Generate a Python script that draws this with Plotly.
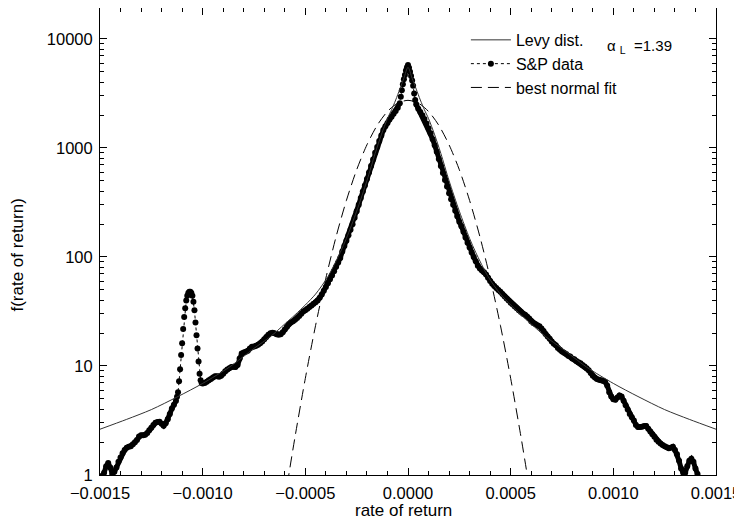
import plotly.graph_objects as go

# ---------------- data ----------------
# S&P data: rate of return (x) and density f (y)
sp_x = [
    -0.00149, -0.00148, -0.00147, -0.00146, -0.00145, -0.00144, -0.00143, -0.00142, -0.00141, -0.00140,
    -0.00139, -0.00138, -0.00137, -0.00136, -0.00135, -0.00134, -0.00133, -0.00132, -0.00131, -0.00130,
    -0.00129, -0.00128, -0.00127, -0.00126, -0.00125, -0.00124, -0.00123, -0.00122, -0.00121, -0.00120,
    -0.00119, -0.00118, -0.00117, -0.00116, -0.00115, -0.00114, -0.00113, -0.001125, -0.00112, -0.001115,
    -0.00111, -0.001105, -0.00110, -0.001095, -0.00109, -0.001085, -0.00108, -0.001075, -0.00107, -0.001065,
    -0.00106, -0.001055, -0.00105, -0.001045, -0.00104, -0.001035, -0.00103, -0.001025, -0.00102, -0.001015,
    -0.00101, -0.001005, -0.00100, -0.00099, -0.00098, -0.00097, -0.00096, -0.00095, -0.00094, -0.00093,
    -0.00092, -0.00091, -0.00090, -0.00089, -0.00088, -0.00087, -0.00086, -0.00085, -0.00084, -0.00083,
    -0.00082, -0.00081, -0.00080, -0.00079, -0.00078, -0.00077, -0.00076, -0.00075, -0.00074, -0.00073,
    -0.00072, -0.00071, -0.00070, -0.00069, -0.00068, -0.00067, -0.00066, -0.00065, -0.00064, -0.00063,
    -0.00062, -0.00061, -0.00060, -0.00059, -0.00058, -0.00057, -0.00056, -0.00055, -0.00054, -0.00053,
    -0.00052, -0.00051, -0.00050, -0.00049, -0.00048, -0.00047, -0.00046, -0.00045, -0.00044, -0.00043,
    -0.00042, -0.00041, -0.00040, -0.00039, -0.00038, -0.00037, -0.00036, -0.00035, -0.00034, -0.00033,
    -0.00032, -0.00031, -0.00030, -0.00029, -0.00028, -0.00027, -0.00026, -0.00025, -0.00024, -0.00023,
    -0.00022, -0.00021, -0.00020, -0.00019, -0.00018, -0.00017, -0.00016, -0.00015, -0.00014, -0.00013,
    -0.00012, -0.00011, -0.00010, -0.00009, -0.00008, -0.00007, -0.00006, -0.00005, -0.00004, -0.000035,
    -0.00003, -0.000025, -0.00002, -0.000015, -0.00001, -0.000005, 0.0, 0.000005, 0.00001, 0.000015,
    0.00002, 0.000025, 0.00003, 0.000035, 0.00004, 0.00005, 0.00006, 0.00007, 0.00008, 0.00009,
    0.00010, 0.00011, 0.00012, 0.00013, 0.00014, 0.00015, 0.00016, 0.00017, 0.00018, 0.00019,
    0.00020, 0.00021, 0.00022, 0.00023, 0.00024, 0.00025, 0.00026, 0.00027, 0.00028, 0.00029,
    0.00030, 0.00031, 0.00032, 0.00033, 0.00034, 0.00035, 0.00036, 0.00037, 0.00038, 0.00039,
    0.00040, 0.00041, 0.00042, 0.00043, 0.00044, 0.00045, 0.00046, 0.00047, 0.00048, 0.00049,
    0.00050, 0.00051, 0.00052, 0.00053, 0.00054, 0.00055, 0.00056, 0.00057, 0.00058, 0.00059,
    0.00060, 0.00061, 0.00062, 0.00063, 0.00064, 0.00065, 0.00066, 0.00067, 0.00068, 0.00069,
    0.00070, 0.00071, 0.00072, 0.00073, 0.00074, 0.00075, 0.00076, 0.00077, 0.00078, 0.00079,
    0.00080, 0.00081, 0.00082, 0.00083, 0.00084, 0.00085, 0.00086, 0.00087, 0.00088, 0.00089,
    0.00090, 0.00091, 0.00092, 0.00093, 0.00094, 0.00095, 0.00096, 0.00097, 0.00098, 0.00099,
    0.00100, 0.00101, 0.00102, 0.00103, 0.00104, 0.00105, 0.00106, 0.00107, 0.00108, 0.00109,
    0.00110, 0.00111, 0.00112, 0.00113, 0.00114, 0.00115, 0.00116, 0.00117, 0.00118, 0.00119,
    0.00120, 0.00121, 0.00122, 0.00123, 0.00124, 0.00125, 0.00126, 0.00127, 0.00128, 0.00129,
    0.00130, 0.00131, 0.00132, 0.00133, 0.00134, 0.00135, 0.00136, 0.00137, 0.00138, 0.00139,
    0.00140, 0.00141,
]
sp_f = [
    0.98, 1.05, 1.20, 1.29, 1.17, 1.02, 1.07, 1.17, 1.32, 1.45,
    1.58, 1.70, 1.78, 1.82, 1.84, 1.91, 2.00, 2.09, 2.26, 2.32,
    2.32, 2.34, 2.43, 2.57, 2.72, 2.88, 3.01, 3.07, 3.08, 2.95,
    2.83, 2.99, 3.24, 3.63, 4.07, 4.42, 4.79, 5.22, 5.75, 7.24,
    9.33, 12.6, 16.2, 21.9, 28.2, 33.9, 39.8, 44.2, 46.8, 48.1,
    47.9, 46.8, 44.2, 38.9, 32.4, 25.1, 19.1, 14.5, 11.0, 8.51,
    7.41, 7.00, 6.92, 7.00, 7.16, 7.38, 7.59, 7.85, 8.04, 8.04,
    7.98, 8.13, 8.51, 8.95, 9.29, 9.55, 9.77, 9.86, 9.77, 10.2,
    11.7, 13.0, 13.3, 13.5, 13.8, 14.5, 15.0, 15.1, 15.3, 15.7,
    16.2, 16.8, 17.6, 18.4, 19.3, 20.0, 20.2, 20.0, 19.5, 19.3,
    19.5, 20.4, 21.6, 22.9, 24.3, 25.1, 25.7, 26.6, 27.5, 28.8,
    30.2, 31.6, 32.4, 33.5, 34.7, 35.9, 37.2, 38.5, 39.8, 42.2,
    45.2, 49.0, 53.1, 57.5, 62.4, 67.6, 74.1, 81.3, 89.1, 97.7,
    112, 126, 141, 158, 178, 200, 229, 263, 302, 347,
    398, 452, 519, 596, 684, 785, 902, 1023, 1161, 1303,
    1462, 1585, 1698, 1820, 1936, 2065, 2188, 2344, 2570, 2951,
    3388, 3846, 4266, 4677, 5129, 5495, 5754, 5433, 5012, 4571,
    4169, 3715, 3162, 2754, 2512, 2291, 2138, 1995, 1841, 1679,
    1514, 1365, 1202, 1059, 923, 794, 684, 589, 508, 442,
    385, 339, 302, 266, 237, 211, 191, 170, 151, 135,
    122, 110, 100, 91.2, 83.2, 78.5, 75.0, 72.4, 69.2, 64.6,
    60.3, 56.9, 54.3, 51.9, 49.8, 47.9, 45.7, 43.7, 41.7, 39.8,
    38.0, 36.7, 35.1, 33.9, 32.4, 31.3, 30.2, 29.5, 28.5, 27.2,
    25.7, 24.8, 24.3, 23.7, 23.2, 22.1, 20.9, 19.7, 18.6, 17.8,
    16.8, 16.0, 15.5, 14.6, 14.1, 13.6, 13.2, 12.9, 12.4, 12.2,
    11.7, 11.5, 11.1, 10.8, 10.6, 10.2, 9.89, 9.55, 9.12, 8.61,
    8.13, 7.85, 7.59, 7.46, 7.41, 7.33, 7.16, 6.61, 5.75, 5.25,
    4.95, 4.90, 5.13, 5.37, 5.25, 4.79, 4.37, 3.98, 3.63, 3.39,
    3.16, 2.88, 2.75, 2.75, 2.77, 2.82, 2.82, 2.66, 2.51, 2.37,
    2.24, 2.11, 2.02, 1.95, 1.88, 1.84, 1.80, 1.76, 1.78, 1.82,
    1.70, 1.55, 1.35, 1.15, 1.05, 1.05, 1.20, 1.35, 1.41, 1.32,
    1.15, 1.02,
]

# Levy stable distribution (alpha_L = 1.39)
levy_x = [-0.0015, -0.00137, -0.00125, -0.00112, -0.00100, -0.00087, -0.00075, -0.00067,
          -0.00060, -0.00055, -0.00050, -0.00045, -0.00039, -0.00033, -0.00030, -0.00025,
          -0.00020, -0.00016, -0.00013, -0.00010, -0.00008, -0.00006, -0.00004, -0.00002,
          0.0,
          0.00002, 0.00004, 0.00006, 0.00008, 0.00010, 0.00013, 0.00016, 0.00020,
          0.00025, 0.00030, 0.00033, 0.00039, 0.00045, 0.00050, 0.00055, 0.00060,
          0.00067, 0.00075, 0.00087, 0.00100, 0.00112, 0.00125, 0.00137, 0.0015]
levy_f = [2.63, 3.24, 3.98, 5.25, 6.92, 9.77, 14.5, 18.6,
          24.3, 29.5, 36.3, 45.7, 66.1, 110, 148, 263,
          501, 891, 1318, 1862, 2239, 2754, 3467, 4365,
          5495,
          4365, 3467, 2754, 2239, 1862, 1318, 891, 501,
          263, 148, 110, 66.1, 45.7, 36.3, 29.5, 24.3,
          18.6, 14.5, 9.77, 6.92, 5.25, 3.98, 3.24, 2.63]

# best normal fit
norm_x = [-0.00060, -0.00058, -0.00055, -0.00050, -0.00045, -0.00040, -0.00035, -0.00030,
          -0.00025, -0.00020, -0.00015, -0.00010, -0.00005, 0.0,
          0.00005, 0.00010, 0.00015, 0.00020, 0.00025, 0.00030, 0.00035, 0.00040,
          0.00045, 0.00050, 0.00055, 0.00058, 0.00060]
norm_f = [0.58, 1.02, 2.25, 7.7, 23.6, 64, 154, 330,
          631, 1069, 1614, 2163, 2580, 2735,
          2580, 2163, 1614, 1069, 631, 330, 154, 64,
          23.6, 7.7, 2.25, 1.02, 0.58]

x_ticks = [-0.0015, -0.0010, -0.0005, 0.0, 0.0005, 0.0010, 0.0015]
x_ticktext = ["\u22120.0015", "\u22120.0010", "\u22120.0005", "0.0000", "0.0005", "0.0010", "0.0015"]
y_ticks = [1, 10, 100, 1000, 10000]
y_ticktext = ["1", "10", "100", "1000", "10000"]

# ---------------- figure ----------------
FONT = "Liberation Sans, Arial, Helvetica, sans-serif"
fig = go.Figure()

# densely packed data points form a thick band in the smooth parts of the curve
def band(seq):
    return list(seq[0:37]) + [None] + list(seq[62:159]) + [None] + list(seq[174:])

fig.add_trace(go.Scatter(
    x=band(sp_x), y=band(sp_f), mode="lines", showlegend=False, hoverinfo="skip",
    line=dict(color="black", width=5), connectgaps=False,
))
fig.add_trace(go.Scatter(
    x=norm_x, y=norm_f, mode="lines", name="best normal fit",
    line=dict(color="black", width=1, dash="11px,6px", shape="spline", smoothing=0.8),
    legendrank=3,
))
fig.add_trace(go.Scatter(
    x=sp_x, y=sp_f, mode="lines+markers", name="S&P data",
    line=dict(color="black", width=1, dash="3px,3px"),
    marker=dict(color="black", size=6, symbol="circle"),
    legendrank=2,
))
fig.add_trace(go.Scatter(
    x=levy_x, y=levy_f, mode="lines", name="Levy dist.",
    line=dict(color="#333333", width=1, shape="spline", smoothing=0.8),
    legendrank=1,
))

minor_y = [m * d for d in (1, 10, 100, 1000, 10000) for m in range(2, 10)]

# the page body adds an 8px offset; the figure is sized to fill the rest of the window
fig.update_layout(
    width=734, height=511,
    margin=dict(l=92, r=26, t=0, b=44),
    paper_bgcolor="white", plot_bgcolor="white",
    font=dict(family=FONT, size=16, color="black"),
    showlegend=True,
    legend=dict(x=0.594, y=0.968, xanchor="left", yanchor="top",
                bgcolor="rgba(0,0,0,0)", borderwidth=0,
                font=dict(size=16), itemwidth=40, tracegroupgap=0),
    annotations=[
        dict(x=0.819, y=0.918, xref="paper", yref="paper", xanchor="left", yanchor="middle",
             text="\u03b1\u00a0<sub>L</sub>\u00a0\u00a0=1.39", showarrow=False,
             font=dict(family=FONT, size=15, color="black")),
        dict(x=-0.1347, y=0.470, xref="paper", yref="paper", xanchor="center", yanchor="middle",
             text="f(rate of return)", textangle=-90, showarrow=False,
             font=dict(family=FONT, size=17, color="black")),
        dict(x=0.4935, y=-0.075, xref="paper", yref="paper", xanchor="center", yanchor="middle",
             text="rate of return", showarrow=False,
             font=dict(family=FONT, size=17, color="black")),
    ],
)

fig.update_xaxes(
    range=[-0.0015, 0.0015], tickvals=x_ticks, ticktext=x_ticktext,
    ticks="inside", ticklen=7, tickcolor="black",
    minor=dict(ticks="inside", ticklen=4, dtick=0.0001, tick0=0, tickcolor="black"),
    showline=True, linecolor="black", linewidth=1, mirror="ticks",
    showgrid=False, zeroline=False,
    tickfont=dict(size=16.5), ticklabelstandoff=3,
)
fig.update_yaxes(
    type="log", range=[0, 4.284], tickvals=y_ticks, ticktext=y_ticktext,
    ticks="inside", ticklen=7, tickcolor="black",
    minor=dict(ticks="inside", ticklen=4, tickvals=minor_y, tickcolor="black"),
    showline=True, linecolor="black", linewidth=1, mirror="ticks",
    showgrid=False, zeroline=False,
    tickfont=dict(size=16.5), ticklabelstandoff=3,
)

fig.write_html("out.html")
